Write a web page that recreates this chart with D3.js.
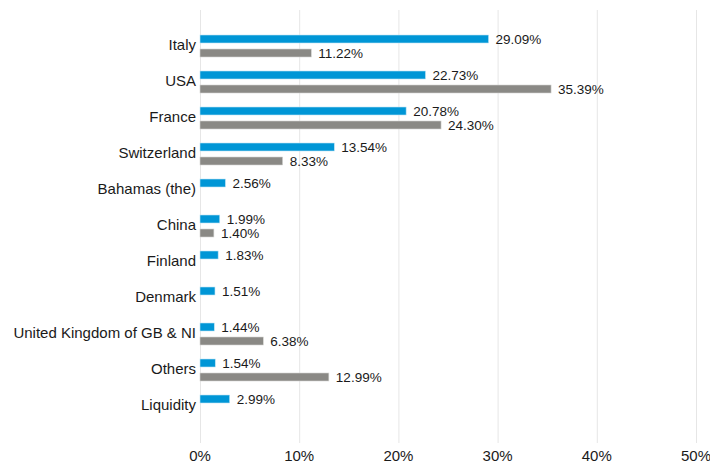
<!DOCTYPE html>
<meta charset="utf-8">
<style>
    body { margin: 0; background: #fff; }
    text { font-family: "Liberation Sans", Arial, sans-serif; fill: #1a1a1a; }
    .grid line { stroke: #e6e6e6; stroke-width: 1px; }
    .grid .domain { display: none; }
</style>
<body>
<div id="chart"></div>
<script src="https://d3js.org/d3.v7.min.js"></script>
<script>
    var categories = ["Italy", "USA", "France", "Switzerland", "Bahamas (the)", "China",
        "Finland", "Denmark", "United Kingdom of GB & NI", "Others", "Liquidity"];
    var seriesA = [29.09, 22.73, 20.78, 13.54, 2.56, 1.99, 1.83, 1.51, 1.44, 1.54, 2.99];
    var seriesB = [11.22, 35.39, 24.30, 8.33, null, 1.40, null, null, 6.38, 12.99, null];
    var tickValues = [0, 10, 20, 30, 40, 50];

    var width = 710,
        height = 465;

    var x = d3.scaleLinear()
        .domain([0, 50])
        .range([200, 696]);

    var y = d3.scaleBand()
        .domain(categories)
        .range([28, 424]);

    var svg = d3.select("#chart").append("svg")
        .attr("width", width)
        .attr("height", height);

    // vertical gridlines
    svg.append("g")
        .attr("class", "grid")
        .attr("transform", "translate(0,443)")
        .call(d3.axisBottom(x).tickValues(tickValues).tickSize(-433).tickFormat(""));

    // tick labels
    svg.append("g").selectAll("text")
        .data(tickValues)
        .enter().append("text")
        .attr("x", function(d) { return x(d); })
        .attr("y", 461)
        .attr("text-anchor", "middle")
        .style("font-size", "15px")
        .text(function(d) { return d + "%"; });

    // category labels
    svg.append("g").selectAll("text")
        .data(categories)
        .enter().append("text")
        .attr("x", 196)
        .attr("y", function(d) { return y(d) + y.bandwidth() / 2; })
        .attr("dy", "0.25em")
        .attr("text-anchor", "end")
        .style("font-size", "15px")
        .text(function(d) { return d; });

    var series = [
        { values: seriesA, color: "#0096d6", stroke: "#bfe3f3", offset: -11 },
        { values: seriesB, color: "#8a8985", stroke: "#d4d4d2", offset: 3 }
    ];

    series.forEach(function(s) {
        var rows = categories.map(function(c, i) { return { cat: c, v: s.values[i] }; })
            .filter(function(d) { return d.v != null; });

        svg.append("g").selectAll("rect")
            .data(rows)
            .enter().append("rect")
            .attr("x", x(0))
            .attr("y", function(d) { return y(d.cat) + y.bandwidth() / 2 + s.offset; })
            .attr("width", function(d) { return x(d.v) - x(0); })
            .attr("height", 8)
            .style("fill", s.color)
            .style("stroke", s.stroke)
            .style("stroke-width", 0.6);

        svg.append("g").selectAll("text")
            .data(rows)
            .enter().append("text")
            .attr("x", function(d) { return x(d.v) + 7; })
            .attr("y", function(d) { return y(d.cat) + y.bandwidth() / 2 + s.offset + 4; })
            .attr("dy", "0.35em")
            .style("font-size", "13.5px")
            .text(function(d) { return d.v.toFixed(2) + "%"; });
    });
</script>
</body>
</html>
